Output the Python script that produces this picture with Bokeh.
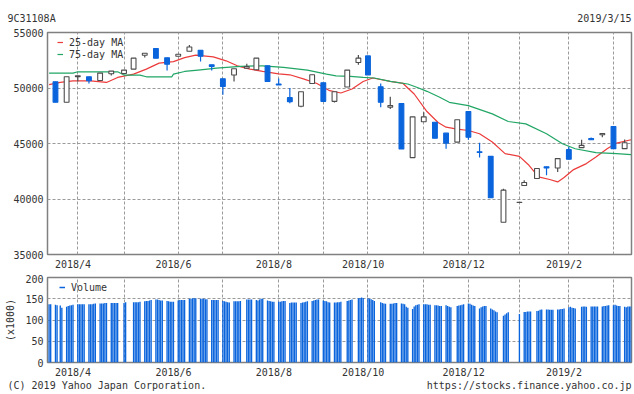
import pandas as pd
from bokeh.plotting import figure
from bokeh.models import Range1d, FixedTicker, Legend, LegendItem, Label
from bokeh.layouts import column
from bokeh.embed import file_html
from bokeh.resources import INLINE

# ---------------- data ----------------
code_text = "9C31108A"
date_text = "2019/3/15"
copyright_text = "(C) 2019 Yahoo Japan Corporation."
url_text = "https://stocks.finance.yahoo.co.jp"

# weekly candles (first trading day of each week)
candle_dates = [
    "2018-03-19", "2018-03-26", "2018-04-02", "2018-04-09", "2018-04-16", "2018-04-23",
    "2018-05-01", "2018-05-07", "2018-05-14", "2018-05-21", "2018-05-28", "2018-06-04",
    "2018-06-11", "2018-06-18", "2018-06-25", "2018-07-02", "2018-07-09", "2018-07-17",
    "2018-07-23", "2018-07-30", "2018-08-06", "2018-08-13", "2018-08-20", "2018-08-27",
    "2018-09-03", "2018-09-10", "2018-09-18", "2018-09-25", "2018-10-01", "2018-10-09",
    "2018-10-15", "2018-10-22", "2018-10-29", "2018-11-05", "2018-11-12", "2018-11-19",
    "2018-11-26", "2018-12-03", "2018-12-10", "2018-12-17", "2018-12-25", "2019-01-04",
    "2019-01-07", "2019-01-15", "2019-01-21", "2019-01-28", "2019-02-04", "2019-02-12",
    "2019-02-18", "2019-02-25", "2019-03-04", "2019-03-11",
]
opens = [50565, 48710, 51012, 51012, 50681, 51281, 51308, 51702, 52957, 53548, 52715, 52867,
         53315, 53405, 52088, 50833, 51165, 51792, 51640, 51998, 50358, 49131, 48351, 50412,
         50475, 48799, 50090, 52294, 52894, 50116, 48262, 48593, 43728, 46954, 46920, 45932,
         45126, 47876, 44260, 43844, 37904, 39680, 41219, 41846, 42900, 42796, 44445, 44624,
         45457, 45789, 46532, 44534]
highs = [50565, 51012, 51102, 51012, 51344, 51523, 51613, 52688, 53136, 53548, 52715, 53046,
         53880, 53405, 52088, 50833, 51729, 52177, 52688, 51998, 50860, 50000, 49668, 51192,
         50475, 49668, 51613, 52984, 52894, 50412, 49220, 48593, 47402, 47814, 46920, 45932,
         47133, 47876, 45072, 43844, 40915, 39710, 41694, 42742, 42900, 43638, 44678, 45341,
         45547, 45905, 46532, 45368]
lows = [48710, 48710, 50591, 50412, 50681, 51129, 51281, 51702, 52742, 52688, 51577, 52867,
        53315, 52383, 51577, 49400, 50591, 51792, 51640, 50591, 50269, 48620, 48262, 50412,
        48799, 48683, 50090, 52088, 51165, 48262, 48118, 44500, 43728, 46954, 45484, 44534,
        45126, 45341, 43728, 40108, 37904, 39680, 41219, 41846, 42142, 42437, 43576, 44624,
        45341, 45574, 44534, 44534]
closes = [48710, 51012, 51102, 50654, 51344, 51523, 51613, 52688, 53136, 52688, 52150, 53046,
          53700, 52867, 51935, 50143, 51729, 51935, 52688, 50591, 50269, 48772, 49668, 51192,
          48799, 49668, 51613, 52688, 51165, 48710, 48414, 44500, 47402, 47402, 45484, 45036,
          47133, 45574, 44200, 40108, 40798, 39710, 41488, 42742, 42800, 43638, 43576, 44830,
          45341, 45905, 44534, 45072]

ma25_dates = [
    "2018-03-15", "2018-03-22", "2018-03-30", "2018-04-10", "2018-04-20", "2018-04-27",
    "2018-05-07", "2018-05-15", "2018-05-23", "2018-06-01", "2018-06-08", "2018-06-15",
    "2018-06-26", "2018-07-04", "2018-07-11", "2018-07-19", "2018-07-27", "2018-08-06",
    "2018-08-13", "2018-08-22", "2018-08-30", "2018-09-07", "2018-09-14", "2018-09-21",
    "2018-09-28", "2018-10-04", "2018-10-15", "2018-10-23", "2018-10-30", "2018-11-07",
    "2018-11-14", "2018-11-19", "2018-11-26", "2018-12-03", "2018-12-10", "2018-12-18",
    "2018-12-26", "2019-01-04", "2019-01-10", "2019-01-16", "2019-01-23", "2019-01-28",
    "2019-02-01", "2019-02-07", "2019-02-15", "2019-02-21", "2019-02-28", "2019-03-06",
    "2019-03-15",
]
ma25 = [50300, 50500, 50650, 50650, 50500, 50950, 51250, 51700, 52240, 52380, 52740, 52960,
        52800, 52450, 52000, 51700, 51490, 51280, 51190, 50800, 50410, 49760, 49550, 49910,
        50590, 50900, 50590, 50410, 49460, 47880, 46890, 46470, 46290, 46170, 45880, 45130,
        44090, 43840, 43040, 41990, 41760, 41540, 41940, 42650, 43190, 43780, 44530, 45040,
        45340]

ma75_dates = [
    "2018-03-15", "2018-03-30", "2018-04-02", "2018-04-27", "2018-05-01", "2018-05-11",
    "2018-05-15", "2018-05-31", "2018-06-01", "2018-06-08", "2018-06-18", "2018-06-28",
    "2018-07-13", "2018-07-27", "2018-08-09", "2018-08-24", "2018-09-05", "2018-09-11",
    "2018-09-20", "2018-09-28", "2018-10-05", "2018-10-15", "2018-10-26", "2018-11-01",
    "2018-11-07", "2018-11-15", "2018-11-21", "2018-12-03", "2018-12-18", "2018-12-28",
    "2019-01-08", "2019-01-21", "2019-01-31", "2019-02-08", "2019-02-21", "2019-03-06",
    "2019-03-15",
]
ma75 = [51340, 51340, 51460, 51460, 51165, 51165, 51010, 51010, 51250, 51490, 51640, 51790,
        51950, 52000, 51850, 51610, 51250, 51100, 51040, 50950, 50900, 50590, 50360, 50050,
        49700, 49160, 48710, 48410, 47670, 46980, 46770, 45880, 44980, 44530, 44170, 44080,
        44000]

# market holidays (weekdays) in the period
holidays = ["2018-03-21", "2018-04-30", "2018-05-03", "2018-05-04", "2018-07-16",
            "2018-09-17", "2018-09-24", "2018-10-08", "2018-11-23", "2018-12-24",
            "2018-12-31", "2019-01-01", "2019-01-02", "2019-01-03", "2019-01-14",
            "2019-02-11"]

# daily volume (x1000), one value per trading day 2018-03-15 .. 2019-03-15
volume = [
    137, 137,
    136, 135, 134, 129,
    131, 133, 134, 135, 136,
    137, 137, 137, 137, 137,
    137, 137, 137, 138, 139,
    139, 139, 139, 140, 140,
    140, 140, 140, 140, 140,
    140, 142,
    142, 142, 142, 142, 143,
    144, 145, 145, 146, 147,
    148, 148, 147, 146, 146,
    145, 144, 143, 143, 143,
    146, 147, 147, 147, 147,
    150, 150, 151, 151, 151,
    150, 150, 150, 149, 149,
    147, 147, 147, 147, 147,
    145, 144, 143, 142, 141,
    144, 144, 144, 144, 145,
    148, 148, 148, 148,
    147, 146, 148, 150, 150,
    146, 145, 144, 143, 143,
    143, 143, 144, 145, 145,
    140, 141, 141, 141, 141,
    140, 141, 142, 143, 144,
    145, 146, 147, 148, 148,
    146, 145, 144, 142, 141,
    141, 141, 142, 142, 143,
    145, 146, 147, 148,
    151, 152, 153, 152,
    151, 150, 149, 147, 145,
    142, 140, 139, 138,
    138, 138, 139, 140, 140,
    139, 138, 137, 131, 129,
    126, 132, 135, 136, 137,
    137, 137, 137, 136, 136,
    135, 135, 134, 133, 133,
    135, 133, 131, 130,
    133, 134, 135, 136, 137,
    139, 138, 136, 134, 133,
    127, 130, 132, 133, 133,
    127, 125, 123, 120, 118,
    110, 113, 116, 118,
    114,
    119, 119, 120, 120, 120,
    121, 122, 124, 125,
    125, 125, 124, 124, 124,
    125, 125, 126, 126, 127,
    130, 131, 129, 128, 127,
    131, 132, 132, 131,
    132, 132, 132, 132, 132,
    132, 133, 133, 134, 135,
    135, 136, 134, 133, 133,
    131, 130, 132, 132, 132,
]

price_ticks = [35000, 40000, 45000, 50000, 55000]
volume_ticks = [0, 50, 100, 150, 200]

# ---------------- helpers ----------------
BASE = pd.Timestamp("2018-03-19")


def day(s):
    return (pd.Timestamp(s) - BASE).days


W = 634
BLUE = "#0a64dc"
GRAY = "#4d4d4d"
RED = "#ec3b3b"
GREEN = "#21a665"
FRAME = "#808080"
GRID = "#9a9a9a"
TEXT = "#333333"
FONT = "DejaVu Sans Mono"

cx = [day(d) for d in candle_dates]
is_up = [c >= o for o, c in zip(opens, closes)]
body_top = [max(o, c) for o, c in zip(opens, closes)]
body_bot = [min(o, c) for o, c in zip(opens, closes)]
line_cols = [GRAY if u else BLUE for u in is_up]
fill_cols = ["white" if u else BLUE for u in is_up]

# month grid: first candle of each new month
grid_days, label_days, label_text = [], [], {}
for i in range(1, len(candle_dates)):
    a, b = pd.Timestamp(candle_dates[i - 1]), pd.Timestamp(candle_dates[i])
    if a.month != b.month:
        grid_days.append(day(candle_dates[i]))
        if b.month % 2 == 0:
            pos = day(candle_dates[i]) - 3
            label_days.append(pos)
            label_text[pos] = f"{b.year}/{b.month}"

bdays = pd.bdate_range("2018-03-15", "2019-03-15")
hol = set(pd.to_datetime(holidays))
tdays = [d for d in bdays if d not in hol]
vol_x = [(d - BASE).days for d in tdays][:len(volume)]
vol_y = volume[:len(vol_x)]

xr = Range1d(-5.0, 361.3)


def style(p, yticks, grid_yticks):
    p.outline_line_color = FRAME
    p.outline_line_width = 1.5
    p.background_fill_color = "white"
    p.border_fill_color = "white"
    p.xaxis.ticker = FixedTicker(ticks=label_days)
    p.xaxis.major_label_overrides = label_text
    p.yaxis.ticker = FixedTicker(ticks=yticks)
    for ax in (p.xaxis[0], p.yaxis[0]):
        ax.axis_line_color = None
        ax.major_tick_line_color = None
        ax.minor_tick_line_color = None
        ax.major_tick_in = 0
        ax.major_tick_out = 0
        ax.major_label_text_font = FONT
        ax.major_label_text_font_size = "10px"
        ax.major_label_text_color = TEXT
        ax.major_label_standoff = 4
    p.xgrid.ticker = FixedTicker(ticks=grid_days)
    p.ygrid.ticker = FixedTicker(ticks=grid_yticks)
    for g in (p.xgrid[0], p.ygrid[0]):
        g.grid_line_color = GRID
        g.grid_line_dash = "3 2"
        g.grid_line_width = 1


def text_strip(height, items):
    s = figure(width=W, height=height, x_range=Range1d(0, W), y_range=Range1d(0, height),
               x_axis_type=None, y_axis_type=None, output_backend="svg",
               toolbar_location=None, min_border=0, frame_align=False)
    s.title.visible = False
    s.outline_line_color = None
    s.xgrid.visible = False
    s.ygrid.visible = False
    s.background_fill_color = "white"
    s.border_fill_color = "white"
    for txt, x, y, align in items:
        s.add_layout(Label(x=x, y=y, text=txt, text_font=FONT, text_font_size="10px",
                           text_color=TEXT, text_align=align, text_baseline="middle"))
    return s


# ---------------- header ----------------
header = text_strip(26, [(code_text, 7, 8, "left"), (date_text, 631, 8, "right")])

# ---------------- price panel ----------------
p1 = figure(width=W, height=248, x_range=xr, y_range=Range1d(35000, 55000),
            output_backend="svg", toolbar_location=None,
            min_border_left=47, min_border_right=3, min_border_top=6, min_border_bottom=20)
p1.title.visible = False
style(p1, price_ticks, price_ticks[1:-1])

r25 = p1.line([day(d) for d in ma25_dates], ma25, line_color=RED, line_width=1.2)
r75 = p1.line([day(d) for d in ma75_dates], ma75, line_color=GREEN, line_width=1.2)
p1.segment(x0=cx, y0=lows, x1=cx, y1=highs, line_color=line_cols, line_width=1.2)
p1.vbar(x=cx, width=3.0, top=body_top, bottom=body_bot,
        fill_color=fill_cols, line_color=line_cols, line_width=1.1)

leg1 = Legend(items=[LegendItem(label="25-day MA", renderers=[r25]),
                     LegendItem(label="75-day MA", renderers=[r75])],
              location=(10, 194), orientation="vertical",
              background_fill_alpha=0, border_line_color=None,
              glyph_width=6, glyph_height=12, label_height=12, label_standoff=6,
              spacing=0, padding=3, margin=0,
              label_text_font=FONT, label_text_font_size="10px", label_text_color=TEXT)
p1.add_layout(leg1)

# ---------------- volume panel ----------------
p2 = figure(width=W, height=106, x_range=xr, y_range=Range1d(0, 200),
            output_backend="svg", toolbar_location=None,
            min_border_left=47, min_border_right=3, min_border_top=3, min_border_bottom=16)
p2.title.visible = False
style(p2, volume_ticks, volume_ticks[1:-1])
p2.yaxis.axis_label = "(x1000)"
p2.yaxis.axis_label_text_font = FONT
p2.yaxis.axis_label_text_font_size = "10px"
p2.yaxis.axis_label_text_font_style = "normal"
p2.yaxis.axis_label_text_color = TEXT
p2.yaxis.axis_label_standoff = 6

p2.vbar(x=vol_x, top=vol_y, bottom=0, width=0.85, fill_color=BLUE, line_color=None)
# legend key for volume (no visible data of its own)
rv_key = p2.line(x=vol_x[:2], y=[float("nan"), float("nan")], line_color=BLUE, line_width=1.5)
leg2 = Legend(items=[LegendItem(label="Volume", renderers=[rv_key], index=0)],
              location=(12, 69), orientation="vertical",
              background_fill_alpha=0, border_line_color=None,
              glyph_width=6, glyph_height=12, label_height=12, label_standoff=6,
              spacing=0, padding=3, margin=0,
              label_text_font=FONT, label_text_font_size="10px", label_text_color=TEXT)
p2.add_layout(leg2)

# ---------------- footer ----------------
footer = text_strip(14, [(copyright_text, 7, 9, "left"), (url_text, 631, 9, "right")])

layout = column(header, p1, p2, footer, spacing=0)
open("out.html", "w").write(file_html(layout, INLINE))
